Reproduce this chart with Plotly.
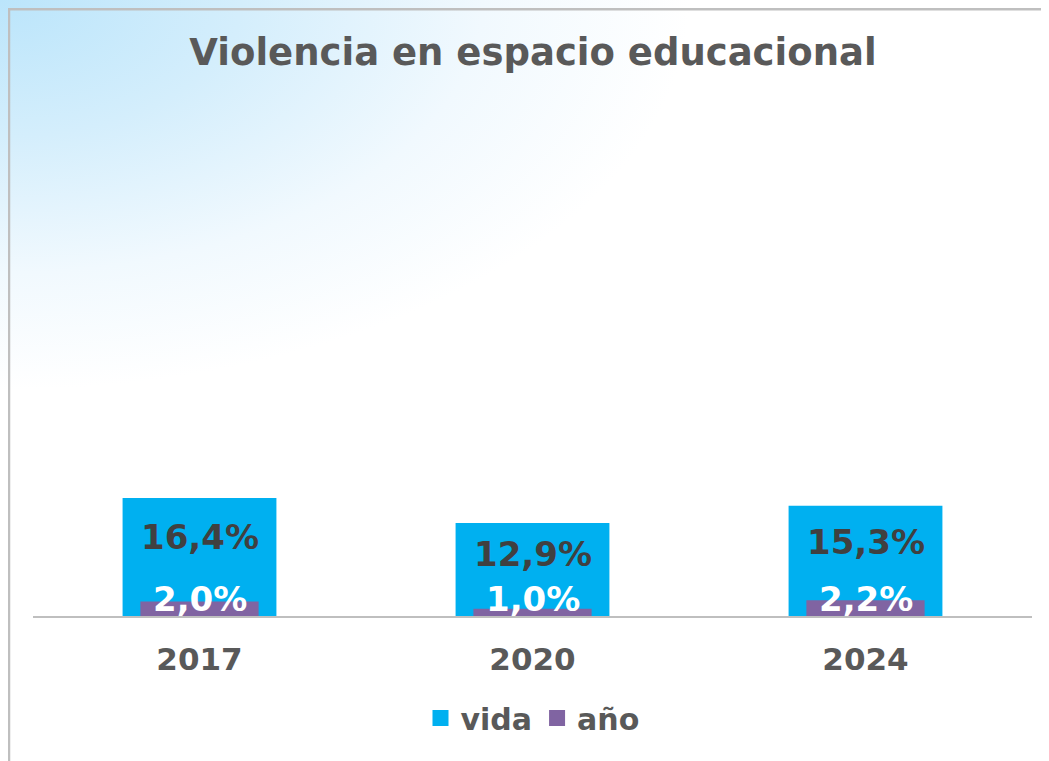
import base64
import plotly.graph_objects as go

years = ["2017", "2020", "2024"]
vida = [16.4, 12.9, 15.3]
anio = [2.0, 1.0, 2.2]
vida_labels = ["16,4%", "12,9%", "15,3%"]
anio_labels = ["2,0%", "1,0%", "2,2%"]

W, H = 1049, 761
L, R, T, B = 25, 25, 104, 153
pw, ph = W - L - R, H - T - B

FONT = "DejaVu Sans"
GRAY = "#595959"
VIDA_C = "#00B0F0"
ANIO_C = "#8064A2"

RX, RY = 690, 390
stops = [(0, "#BBE5FB"), (0.35, "#D4EEFC"), (0.7, "#F1F9FE"), (1, "#FFFFFF")]
stop_svg = "".join(f'<stop offset="{o}" stop-color="{c}"/>' for o, c in stops)
svg = f'''<svg xmlns="http://www.w3.org/2000/svg" width="{W}" height="{H}" viewBox="0 0 {W} {H}" preserveAspectRatio="none">
<defs>
<radialGradient id="g" gradientUnits="userSpaceOnUse" cx="0" cy="0" r="1" gradientTransform="translate(-8,-8) scale({RX},{RY})">
{stop_svg}
</radialGradient>
</defs>
<rect x="0" y="0" width="{W}" height="{H}" fill="#FFFFFF"/>
<rect x="0" y="0" width="{W}" height="{H}" fill="url(#g)"/>
<line x1="0" y1="1.2" x2="{W}" y2="1.2" stroke="#BFBFBF" stroke-width="2.5"/>
<line x1="1" y1="0" x2="1" y2="{H}" stroke="#BFBFBF" stroke-width="2.5"/>
</svg>'''
src = "data:image/svg+xml;base64," + base64.b64encode(svg.encode()).decode()

css_stops = ", ".join(f"{c} {int(o*100)}%" for o, c in stops)
post = f"document.body.style.background='radial-gradient(ellipse {RX}px {RY}px at 0 0, {css_stops}) no-repeat #FFFFFF';"

fig = go.Figure()
fig.add_trace(go.Bar(x=years, y=vida, name="vida", marker_color=VIDA_C,
                     marker_line_width=0, width=0.462, showlegend=False))
fig.add_trace(go.Bar(x=years, y=anio, name="año", marker_color=ANIO_C,
                     marker_line_width=0, width=0.355, showlegend=False))
# legend entries with larger square swatches
fig.add_trace(go.Scatter(x=[None], y=[None], mode="markers", name="vida",
                         marker=dict(symbol="square", size=16, color=VIDA_C)))
fig.add_trace(go.Scatter(x=[None], y=[None], mode="markers", name="año",
                         marker=dict(symbol="square", size=16, color=ANIO_C)))

annotations = []
for i, (v, lab) in enumerate(zip(vida, vida_labels)):
    annotations.append(dict(x=i, y=v * 0.67, text=lab, showarrow=False,
                            xanchor="center", yanchor="middle",
                            font=dict(family=FONT, size=34, color="#404040", weight="bold")))
for i, (v, lab) in enumerate(zip(anio, anio_labels)):
    annotations.append(dict(x=i, y=0, text=lab, showarrow=False,
                            xanchor="center", yanchor="middle", yshift=17,
                            font=dict(family=FONT, size=34, color="#FFFFFF", weight="bold")))

fig.update_layout(
    width=W, height=H,
    margin=dict(l=L, r=R, t=T, b=B, pad=0, autoexpand=False),
    barmode="overlay",
    paper_bgcolor="#FFFFFF",
    plot_bgcolor="rgba(0,0,0,0)",
    title=dict(text="Violencia en espacio educacional", x=525 / W, xanchor="center",
               y=1 - 44 / H, yanchor="middle",
               font=dict(family=FONT, size=37, color=GRAY, weight="bold")),
    xaxis=dict(type="category", range=[-0.5, 2.5], showline=True, linecolor="#BFBFBF",
               linewidth=2, showgrid=False,
               ticks="outside", ticklen=15, tickcolor="rgba(0,0,0,0)", automargin=False,
               tickfont=dict(family=FONT, size=31, color=GRAY, weight="bold"),
               fixedrange=True),
    yaxis=dict(range=[0, 70], visible=False, showgrid=False, zeroline=False, automargin=False),
    legend=dict(orientation="h", x=0.5, xanchor="center", y=(608 - 710) / ph,
                yanchor="middle", font=dict(family=FONT, size=30, color=GRAY, weight="bold"),
                bgcolor="rgba(0,0,0,0)", itemwidth=30, traceorder="normal"),
    annotations=annotations,
    images=[dict(source=src, xref="paper", yref="paper", x=-L / pw, y=1 + T / ph,
                 sizex=W / pw, sizey=H / ph, xanchor="left", yanchor="top",
                 sizing="stretch", layer="below")],
    showlegend=True,
)

fig.write_html("out.html", post_script=post)
